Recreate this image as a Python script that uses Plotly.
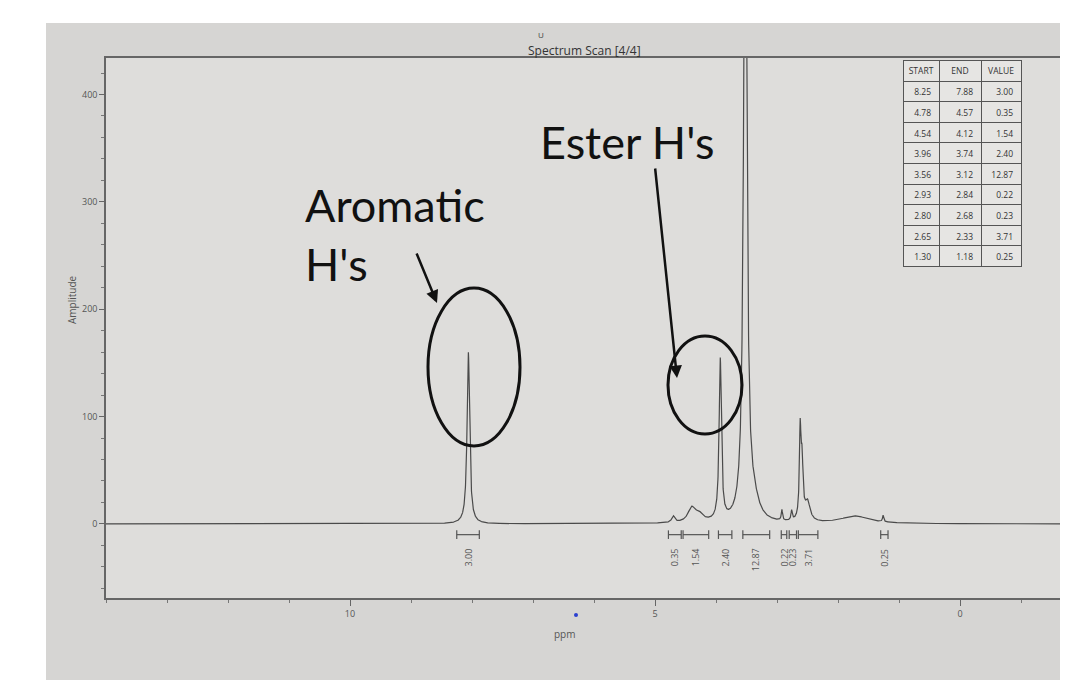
import plotly.graph_objects as go
import numpy as np

# ---- data ----
# spectrum peaks: position (ppm), height (amplitude), half width (ppm)
peak_ppm    = [8.06, 4.70, 4.40, 4.28, 3.93, 3.52, 3.38, 2.92, 2.76, 2.62, 2.59, 2.50, 1.72, 1.26]
peak_height = [160,  6,    13,   7,    150,  700,  16,   10,   9,    78,   52,   18,   7,    6]
peak_hwhm   = [0.025, 0.03, 0.07, 0.08, 0.022, 0.03, 0.10, 0.012, 0.012, 0.015, 0.02, 0.05, 0.28, 0.012]

# integration table
int_start = [8.25, 4.78, 4.54, 3.96, 3.56, 2.93, 2.80, 2.65, 1.30]
int_end   = [7.88, 4.57, 4.12, 3.74, 3.12, 2.84, 2.68, 2.33, 1.18]
int_value = ["3.00", "0.35", "1.54", "2.40", "12.87", "0.22", "0.23", "3.71", "0.25"]

x_ticks = [10, 5, 0]
y_ticks = [0, 100, 200, 300, 400]

# ---- geometry helpers (screen pixel -> paper); page body has an 8px margin ----
OFF = 8
W, H = 1068 - 2 * OFF, 688 - 2 * OFF
L, T = 106 - OFF, 58 - OFF
B = H - (598 - OFF)
R = 0
PW, PH = W - L - R, H - T - B
def px(x):
    return (x - OFF - L) / PW
def py(y):
    return (H - B - (y - OFF)) / PH

# ---- spectrum trace ----
ppm = np.linspace(14.2, -2.0, 8000)
amp = np.zeros_like(ppm)
for c, h, g in zip(peak_ppm, peak_height, peak_hwhm):
    amp += h / (1 + ((ppm - c) / g) ** 2)

fig = go.Figure()
fig.add_trace(go.Scatter(x=ppm, y=amp, mode="lines",
                         line=dict(color="#4a4a4a", width=1.2),
                         hoverinfo="skip", showlegend=False))

# integration brackets
bx, by = [], []
for s, e in zip(int_start, int_end):
    bx += [s, e, None, s, s, None, e, e, None]
    by += [-10, -10, None, -6, -14, None, -6, -14, None]
fig.add_trace(go.Scatter(x=bx, y=by, mode="lines",
                         line=dict(color="#555555", width=1.2),
                         hoverinfo="skip", showlegend=False))

annotations = []
for s, e, v in zip(int_start, int_end, int_value):
    annotations.append(dict(x=(s + e) / 2, y=-21, xref="x", yref="y", text=v,
                            textangle=-90, showarrow=False, xanchor="center", yanchor="top",
                            font=dict(family="Open Sans", size=9, color="#555555")))

# integration table
fig.add_trace(go.Table(
    domain=dict(x=[px(903), px(1021)], y=[py(268), py(60)]),
    columnwidth=[36, 42, 40],
    header=dict(values=["START", "END", "VALUE"],
                fill_color="#e6e5e3", line=dict(color="#555555", width=1),
                align="center", height=21,
                font=dict(family="Open Sans", size=8.5, color="#333333")),
    cells=dict(values=[[f"{v:.2f}" for v in int_start],
                       [f"{v:.2f}" for v in int_end],
                       int_value],
               fill_color="#e6e5e3", line=dict(color="#555555", width=1),
               align="right", height=20.6,
               font=dict(family="Open Sans", size=8.5, color="#333333")),
))

# text annotations
annotations += [
    dict(x=px(584), y=py(40), xref="paper", yref="paper", text="Spectrum Scan [4/4]",
         xanchor="center", showarrow=False,
         font=dict(family="Open Sans", size=12, color="#333333")),
    dict(x=px(541), y=py(27), xref="paper", yref="paper", text="U",
         xanchor="center", showarrow=False,
         font=dict(family="Open Sans", size=8, color="#444444")),
    dict(x=px(565), y=py(643), xref="paper", yref="paper", text="ppm",
         xanchor="center", showarrow=False,
         font=dict(family="Open Sans", size=10, color="#555555")),
    dict(x=px(72), y=py(300), xref="paper", yref="paper", text="Amplitude", textangle=-90,
         xanchor="center", yanchor="middle", showarrow=False,
         font=dict(family="Open Sans", size=10, color="#555555")),
    dict(x=px(303), y=py(176), xref="paper", yref="paper", text="Aromatic<br>H's",
         align="left", xanchor="left", yanchor="top", showarrow=False,
         font=dict(family="Lato", size=45, color="#111111")),
    dict(x=px(538), y=py(113), xref="paper", yref="paper", text="Ester H's",
         xanchor="left", yanchor="top", showarrow=False,
         font=dict(family="Lato", size=45, color="#111111")),
    # arrows
    dict(x=px(437), y=py(303), xref="paper", yref="paper", text="", showarrow=True,
         ax=-21, ay=-51, arrowhead=2, arrowsize=1, arrowwidth=2.5, arrowcolor="#111111"),
    dict(x=px(677), y=py(378), xref="paper", yref="paper", text="", showarrow=True,
         ax=-22, ay=-211, arrowhead=2, arrowsize=1, arrowwidth=2.5, arrowcolor="#111111"),
]

shapes = [
    # photo background
    dict(type="rect", xref="paper", yref="paper", x0=px(46), x1=px(1080), y0=py(700), y1=py(23),
         fillcolor="#d6d5d3", line=dict(width=0), layer="below"),
    dict(type="rect", xref="paper", yref="paper", x0=0, x1=1, y0=0, y1=1,
         fillcolor="#dedddb", line=dict(width=0), layer="below"),
    # ellipses
    dict(type="circle", xref="paper", yref="paper", x0=px(428), x1=px(520), y0=py(446), y1=py(288),
         line=dict(color="#111111", width=3)),
    dict(type="circle", xref="paper", yref="paper", x0=px(668), x1=px(742), y0=py(434), y1=py(336),
         line=dict(color="#111111", width=3)),
    # small blue dot
    dict(type="circle", xref="paper", yref="paper", x0=px(574), x1=px(578), y0=py(617), y1=py(613),
         fillcolor="#2a3fd0", line=dict(width=0)),
]

# x range: 14.0 ppm at the left edge, ~61 px per ppm
x_left = 14.0
x_right = x_left - PW / 61.0

fig.update_layout(
    width=W, height=H,
    margin=dict(l=L, r=R, t=T, b=B),
    paper_bgcolor="white", plot_bgcolor="rgba(0,0,0,0)",
    showlegend=False,
    annotations=annotations, shapes=shapes,
    xaxis=dict(range=[x_left, x_right], tickmode="array", tickvals=x_ticks,
               ticks="outside", ticklen=6, tickcolor="#666666", tickwidth=1.2,
               showline=True, linecolor="#666666", linewidth=1.5, mirror=True,
               showgrid=False, zeroline=False,
               minor=dict(tickmode="linear", tick0=0, dtick=1, ticks="outside",
                          ticklen=3, tickcolor="#777777"),
               tickfont=dict(family="Open Sans", size=9, color="#555555")),
    yaxis=dict(range=[-69, 434], tickmode="array", tickvals=y_ticks,
               ticks="outside", ticklen=5, tickcolor="#666666", tickwidth=1.2,
               showline=True, linecolor="#666666", linewidth=1.5, mirror=False,
               showgrid=False, zeroline=False,
               minor=dict(tickmode="linear", tick0=0, dtick=20, ticks="outside",
                          ticklen=3, tickcolor="#777777"),
               tickfont=dict(family="Open Sans", size=9, color="#555555")),
)

fig.write_html("out.html")
